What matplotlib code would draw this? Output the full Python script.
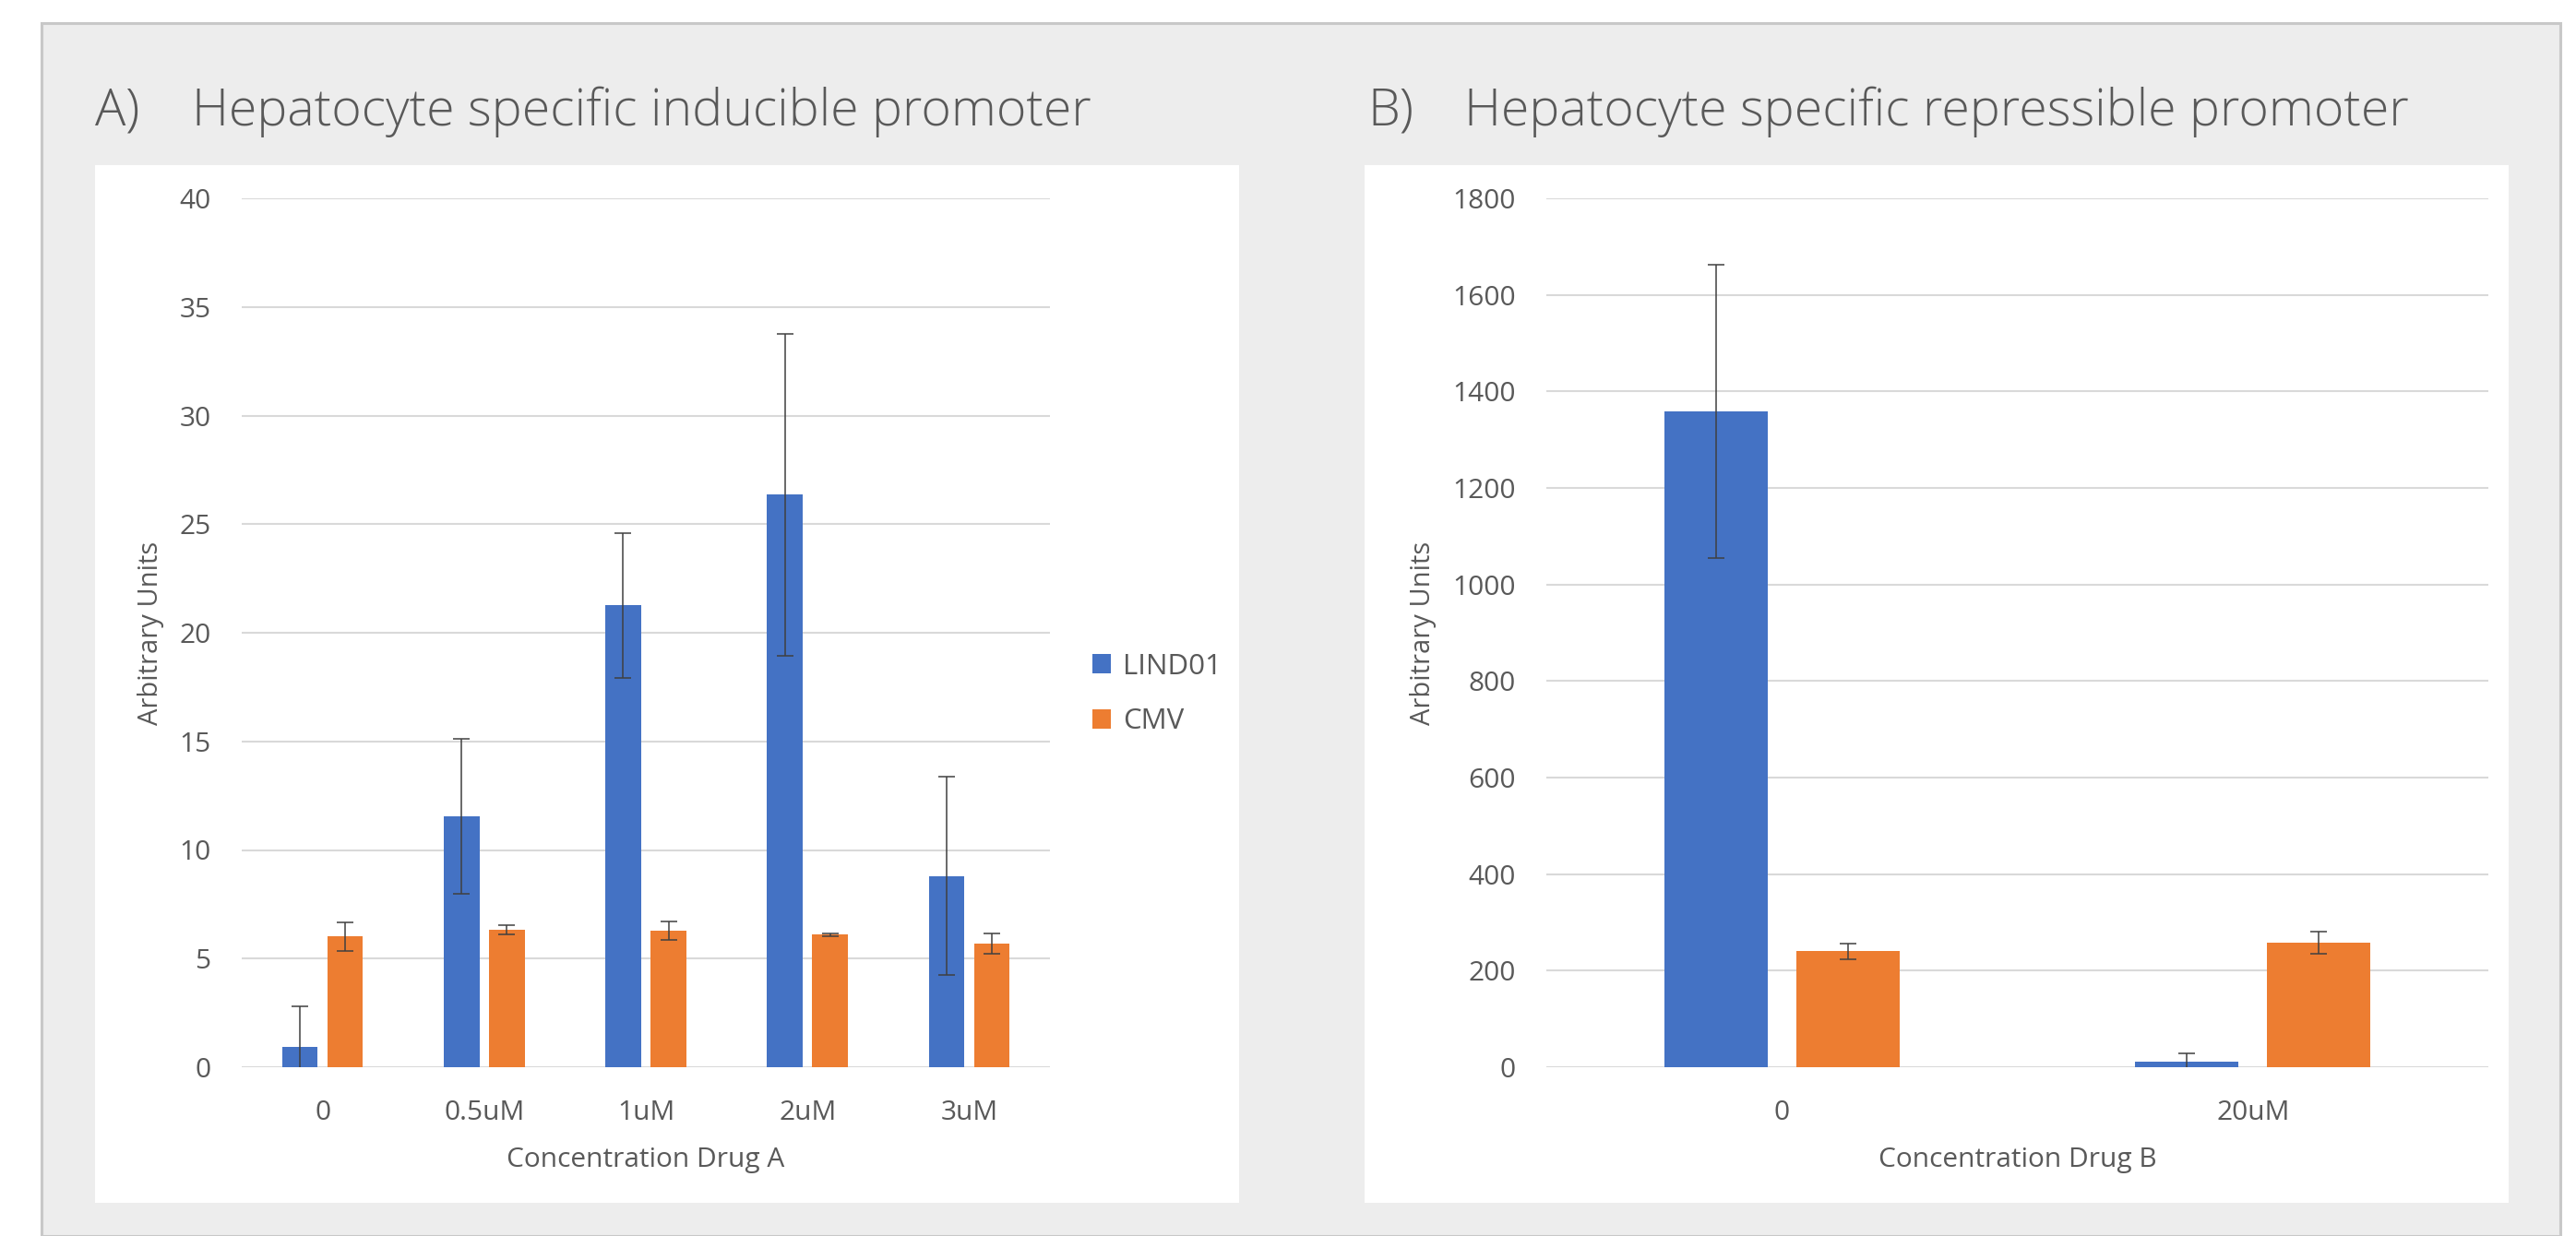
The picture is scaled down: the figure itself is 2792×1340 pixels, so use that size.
import matplotlib
matplotlib.use("Agg")
import numpy as np
from matplotlib import pyplot as plt
from matplotlib.patches import Patch, Rectangle

# panel A data
cats_a = ["0", "0.5uM", "1uM", "2uM", "3uM"]
lind01_a = [0.94, 11.54, 21.27, 26.35, 8.81]
lind01_a_err = [1.87, 3.57, 3.33, 7.4, 4.58]
cmv_a = [6.02, 6.34, 6.29, 6.10, 5.69]
cmv_a_err = [0.65, 0.22, 0.42, 0.05, 0.47]

# panel B data
cats_b = ["0", "20uM"]
lind01_b = [1359, 11]
lind01_b_err = [304, 17]
cmv_b = [240, 258]
cmv_b_err = [17, 23]

BLUE = "#4472C4"
ORANGE = "#ED7D31"
TEXT = "#595959"
GRID = "#D9D9D9"
FONT = "Open Sans"

W, H = 2792, 1340
plt.rcParams["font.family"] = [FONT, "DejaVu Sans"]


def fx(px):
    return px / W


def fy(py):
    return 1 - py / H


def box(x0, y0, x1, y1):
    return [fx(x0), fy(y1), fx(x1) - fx(x0), fy(y0) - fy(y1)]


def draw_panel(ax, cats, s1, e1, s2, e2, ymax, step, xlabel):
    x = np.arange(len(cats))
    ekw = dict(ecolor="#404040", elinewidth=1.1, capsize=6.5, capthick=1.1)
    ax.bar(x - 0.14, s1, 0.22, color=BLUE, yerr=e1, error_kw=ekw, zorder=3, label="LIND01")
    ax.bar(x + 0.14, s2, 0.22, color=ORANGE, yerr=e2, error_kw=ekw, zorder=3, label="CMV")
    ax.set_xlim(-0.5, len(cats) - 0.5)
    ax.set_ylim(0, ymax)
    ax.set_yticks(np.arange(0, ymax + step / 2, step))
    ax.set_xticks(x)
    ax.set_xticklabels(cats)
    ax.grid(axis="y", color=GRID, linewidth=1.5, zorder=0)
    ax.set_axisbelow(True)
    for s in ax.spines.values():
        s.set_visible(False)
    ax.tick_params(length=0, labelsize=21.5, colors=TEXT, pad=24)
    ax.tick_params(axis="x", pad=25)
    ax.set_facecolor("white")
    ax.set_ylabel("Arbitrary Units", fontsize=21, color=TEXT, labelpad=12)
    ax.set_xlabel(xlabel, fontsize=21.5, color=TEXT, labelpad=16)


fig = plt.figure(figsize=(W / 100, H / 100), dpi=100)
fig.patch.set_facecolor("white")

# grey outer panel and white chart areas
fig.patches.append(Rectangle((fx(45), 0), fx(2775) - fx(45), fy(38) + 0.01,
                             transform=fig.transFigure, facecolor="#EDEDED",
                             edgecolor="#C8C8C8", linewidth=2.2, zorder=-20))
for x0, x1 in [(103, 1343), (1479, 2719)]:
    fig.patches.append(Rectangle((fx(x0), fy(1304)), fx(x1) - fx(x0), fy(179) - fy(1304),
                                 transform=fig.transFigure, facecolor="white",
                                 edgecolor="none", zorder=-10))

ax1 = fig.add_axes(box(262, 215, 1138, 1157))
draw_panel(ax1, cats_a, lind01_a, lind01_a_err, cmv_a, cmv_a_err, 40, 5, "Concentration Drug A")

ax2 = fig.add_axes(box(1676, 215, 2697, 1157))
draw_panel(ax2, cats_b, lind01_b, lind01_b_err, cmv_b, cmv_b_err, 1800, 200, "Concentration Drug B")

# titles
for tx, lab, title in [(103, "A)", "Hepatocyte specific inducible promoter"),
                       (1482, "B)", "Hepatocyte specific repressible promoter")]:
    fig.text(fx(tx), fy(136), lab, fontsize=40, color=TEXT, fontweight="light", va="baseline")
    fig.text(fx(tx + 105), fy(136), title, fontsize=40, color=TEXT, fontweight="light",
             va="baseline")

handles = [Patch(facecolor=BLUE, label="LIND01"), Patch(facecolor=ORANGE, label="CMV")]
fig.legend(handles=handles, loc="upper left", bbox_to_anchor=(fx(1168), fy(692)),
           frameon=False, fontsize=22.5, labelcolor=TEXT, handlelength=0.66,
           handleheight=0.66, handletextpad=0.4, labelspacing=0.95, borderpad=0)

fig.savefig("out.png", dpi=100, facecolor="white")
